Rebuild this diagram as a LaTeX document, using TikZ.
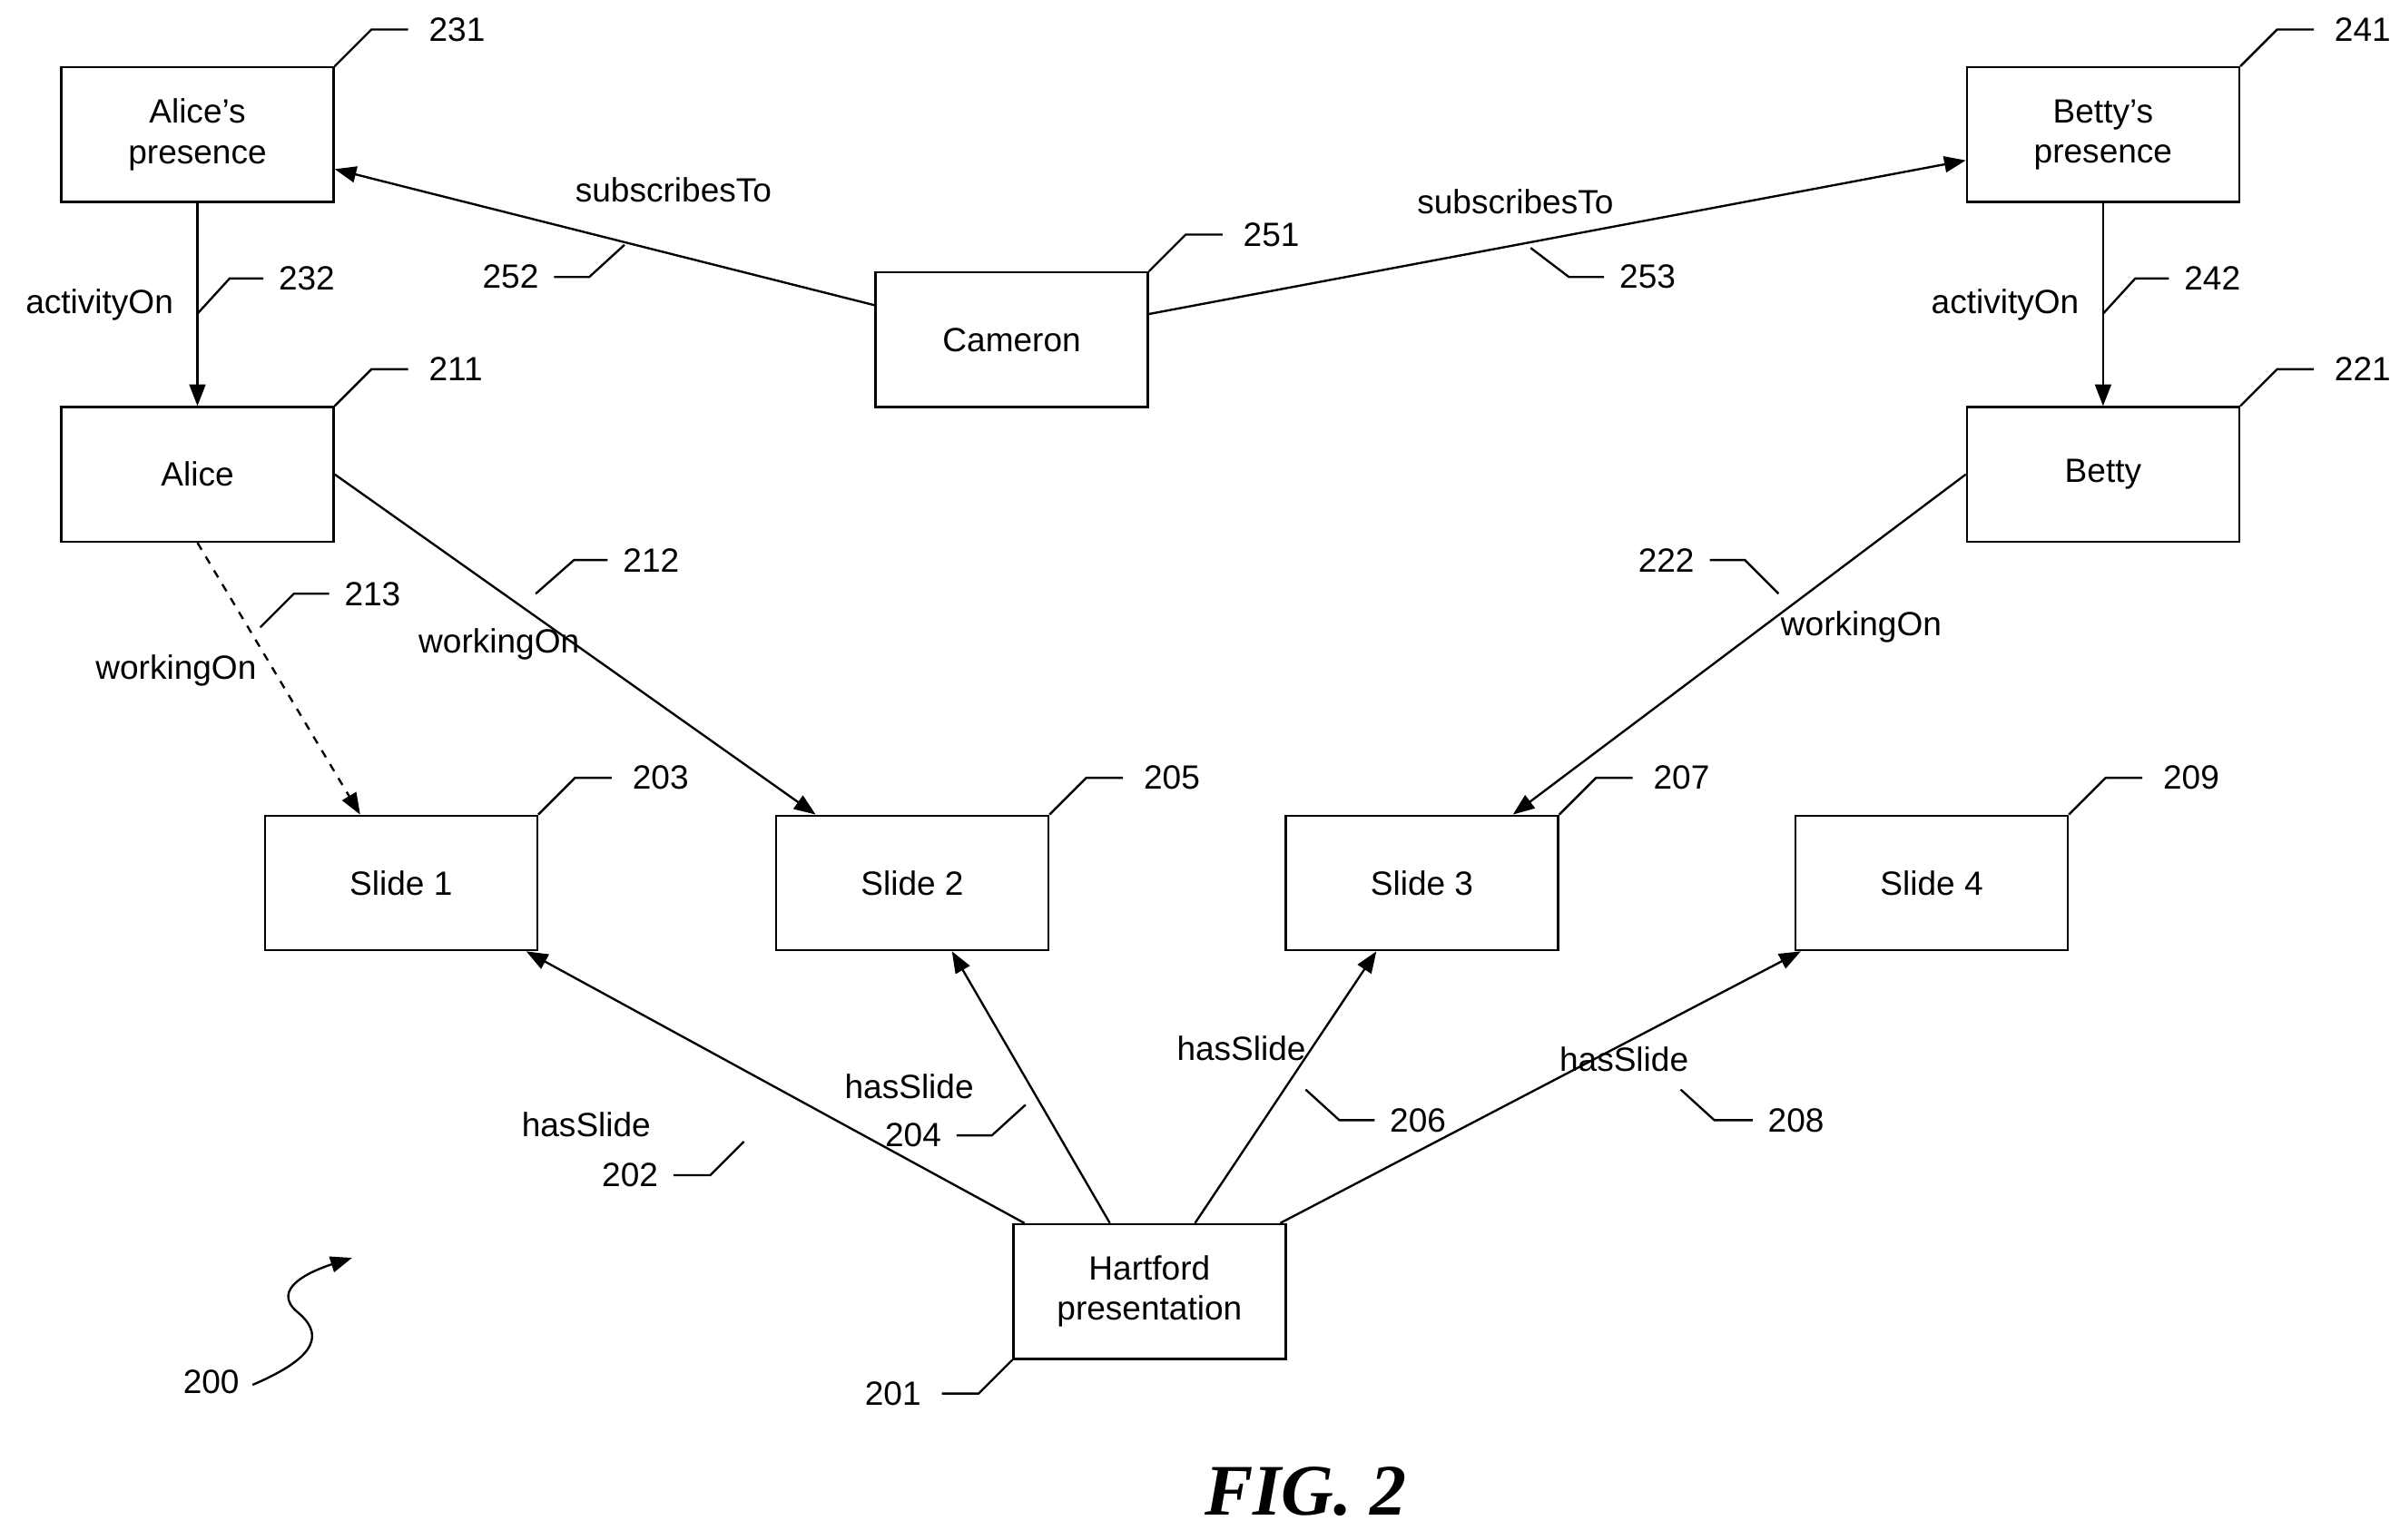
\documentclass[tikz,border=0pt]{standalone}
\usepackage{fontspec}
\setmainfont{Liberation Sans}
\newfontfamily\figfont{Liberation Serif}
\usetikzlibrary{arrows.meta}
\tikzset{x=0.02cm, y=-0.02cm,
  every node/.style={font=\fontsize{12.5}{15}\selectfont},
  box/.style={draw, thick, minimum width=3.56cm, minimum height=1.76cm, align=center, inner sep=1pt},
  link/.style={draw, thick, -{Triangle[length=8pt,width=6pt]}},
  lead/.style={draw, thick}}
% reference number leader: start, rise, run, text
\newcommand{\leadR}[3]{\draw[lead] (#1) -- ++(24,-24) -- ++(24,0) node[right=4pt] {#3};}
\begin{document}
\begin{tikzpicture}
\useasboundingbox (0,0) rectangle (1568,1006);
% nodes
\node[box] (ap) at (129,88) {Alice’s\\presence};
\node[box] (bp) at (1374,88) {Betty’s\\presence};
\node[box] (cam) at (661,222) {Cameron};
\node[box] (al) at (129,310) {Alice};
\node[box] (be) at (1374,310) {Betty};
\node[box] (s1) at (262,577) {Slide 1};
\node[box] (s2) at (596,577) {Slide 2};
\node[box] (s3) at (929,577) {Slide 3};
\node[box] (s4) at (1262,577) {Slide 4};
\node[box] (hp) at (751,844) {Hartford\\presentation};
% box numbers
\leadR{ap.north east}{}{231}
\leadR{bp.north east}{}{241}
\leadR{cam.north east}{}{251}
\leadR{al.north east}{}{211}
\leadR{be.north east}{}{221}
\leadR{s1.north east}{}{203}
\leadR{s2.north east}{}{205}
\leadR{s3.north east}{}{207}
\leadR{s4.north east}{}{209}
\draw[lead] (hp.south west) -- ++(-22,22) -- ++(-24,0) node[left=4pt] {201};
% edges
\draw[link] (cam) -- (ap);
\draw[link] (cam) -- (bp);
\draw[link] (ap) -- (al);
\draw[link] (bp) -- (be);
\draw[link, dashed] (al.south) -- (s1);
\draw[link] (al.east) -- (s2);
\draw[link] (be.west) -- (s3);
\draw[link] (hp) -- (s1);
\draw[link] (hp) -- (s2);
\draw[link] (hp) -- (s3);
\draw[link] (hp) -- (s4);
% edge labels
\node (l252) at (440,124) {subscribesTo};
\node (l253) at (990,132) {subscribesTo};
\node (l232) at (65,199) {activityOn};
\node (l242) at (1310,199) {activityOn};
\node (l213) at (115,438) {workingOn};
\node (l212) at (326,421) {workingOn};
\node (l222) at (1216,410) {workingOn};
\node (l202) at (383,735) {hasSlide};
\node (l204) at (594,710) {hasSlide};
\node (l206) at (811,685) {hasSlide};
\node (l208) at (1061,692) {hasSlide};
% edge numbers
\draw[lead] (408,160) -- (385,181) -- (362,181) node[left=2pt] {252};
\draw[lead] (1000,162) -- (1025,181) -- (1048,181) node[right=2pt] {253};
\draw[lead] (129,205) -- (150,182) -- (172,182) node[right=2pt] {232};
\draw[lead] (1374,205) -- (1395,182) -- (1417,182) node[right=2pt] {242};
\draw[lead] (170,410) -- (192,388) -- (215,388) node[right=2pt] {213};
\draw[lead] (350,388) -- (375,366) -- (397,366) node[right=2pt] {212};
\draw[lead] (1162,388) -- (1140,366) -- (1117,366) node[left=2pt] {222};
\draw[lead] (486,746) -- (464,768) -- (440,768) node[left=2pt] {202};
\draw[lead] (670,722) -- (648,742) -- (625,742) node[left=2pt] {204};
\draw[lead] (853,712) -- (875,732) -- (898,732) node[right=2pt] {206};
\draw[lead] (1098,712) -- (1120,732) -- (1145,732) node[right=2pt] {208};
% figure number
\node (n200) at (138,903) {200};
\draw[lead, -{Triangle[length=8pt,width=6pt]}] (165,905) .. controls (200,890) and (215,875) .. (195,858) .. controls (175,842) and (205,830) .. (230,822);
\node[font=\figfont\fontsize{27}{30}\selectfont\bfseries\itshape] (fig) at (853,975) {FIG. 2};
\end{tikzpicture}
\end{document}
